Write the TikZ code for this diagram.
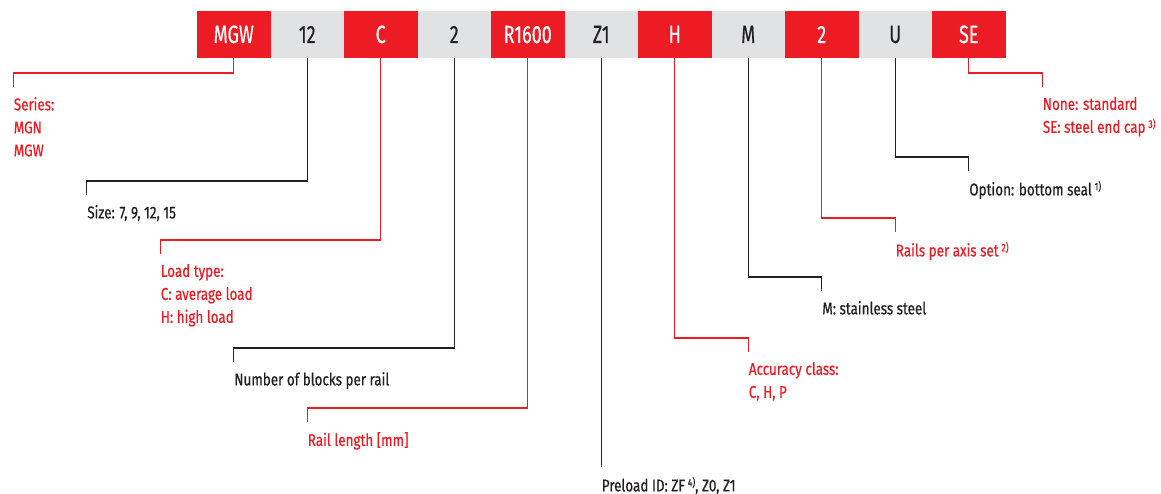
\documentclass[tikz,border=0pt]{standalone}
\usepackage{fontspec}
\setmainfont[FakeStretch=0.79, FakeBold=0.6]{Fira Sans}
\newfontfamily\boxfont[FakeStretch=0.72, FakeBold=0.4]{Fira Sans}
\definecolor{codered}{HTML}{ED1C24}
\definecolor{codegray}{HTML}{E1E2E4}
\definecolor{inkc}{HTML}{231F20}
\newcommand\fnote[1]{\,\raisebox{5pt}{\fontsize{11}{11}\selectfont #1}}

\begin{document}
\begin{tikzpicture}[x=1pt, y=-1pt, line width=1.2pt,
  codebox/.style={minimum width=73.5pt, minimum height=47.5pt, inner sep=0pt, outer sep=0pt,
    text height=17pt, text depth=0pt, font=\boxfont\fontsize{25}{25}\selectfont},
  redbox/.style={codebox, fill=codered, text=white},
  graybox/.style={codebox, fill=codegray, text=inkc},
  lbl/.style={anchor=north west, align=left, inner xsep=0pt, inner ysep=9.5pt,
    font=\fontsize{17}{23}\selectfont},
  redlbl/.style={lbl, text=codered},
  inklbl/.style={lbl, text=inkc}]
  \useasboundingbox (0,0) rectangle (1161,494);

  % order code boxes
  \foreach \t/\s [count=\i] in {MGW/redbox, 12/graybox, C/redbox, 2/graybox, R1600/redbox,
      Z1/graybox, H/redbox, M/graybox, 2/redbox, U/graybox, SE/redbox}
    \node[\s] (b\i) at ({160.25+73.5*\i},34.5) {\t};

  % explanations, left side
  \node[redlbl] (series) at (13.25,87) {Series:\\MGN\\MGW};
  \node[inklbl] (size) at (86.75,195) {Size: 7, 9, 12, 15};
  \node[redlbl] (load) at (160.25,254) {Load type:\\C: average load\\H: high load};
  \node[inklbl] (blocks) at (233.75,362) {Number of blocks per rail};
  \node[redlbl] (rail) at (307.25,422) {Rail length [mm]};
  \node[inklbl] (preload) at (601.25,467) {Preload ID: ZF\fnote{4)}, Z0, Z1};

  % explanations, right side
  \node[redlbl] (accuracy) at (748.25,352) {Accuracy class:\\C, H, P};
  \node[inklbl] (steel) at (821.75,291) {M: stainless steel};
  \node[redlbl] (rails) at (895.25,232) {Rails per axis set\fnote{2)}};
  \node[inklbl] (option) at (968.75,171) {Option: bottom seal\fnote{1)}};
  \node[redlbl] (endcap) at (1042.25,87) {None: standard\\SE: steel end cap\fnote{3)}};

  % leader lines
  \foreach \i/\l/\c in {1/series/codered, 2/size/inkc, 3/load/codered, 4/blocks/inkc,
      5/rail/codered, 6/preload/inkc, 7/accuracy/codered, 8/steel/inkc,
      9/rails/codered, 10/option/inkc, 11/endcap/codered}
    \draw[\c] (b\i.south) |- ([yshift=14pt]\l.north west) -- (\l.north west);
\end{tikzpicture}
\end{document}
